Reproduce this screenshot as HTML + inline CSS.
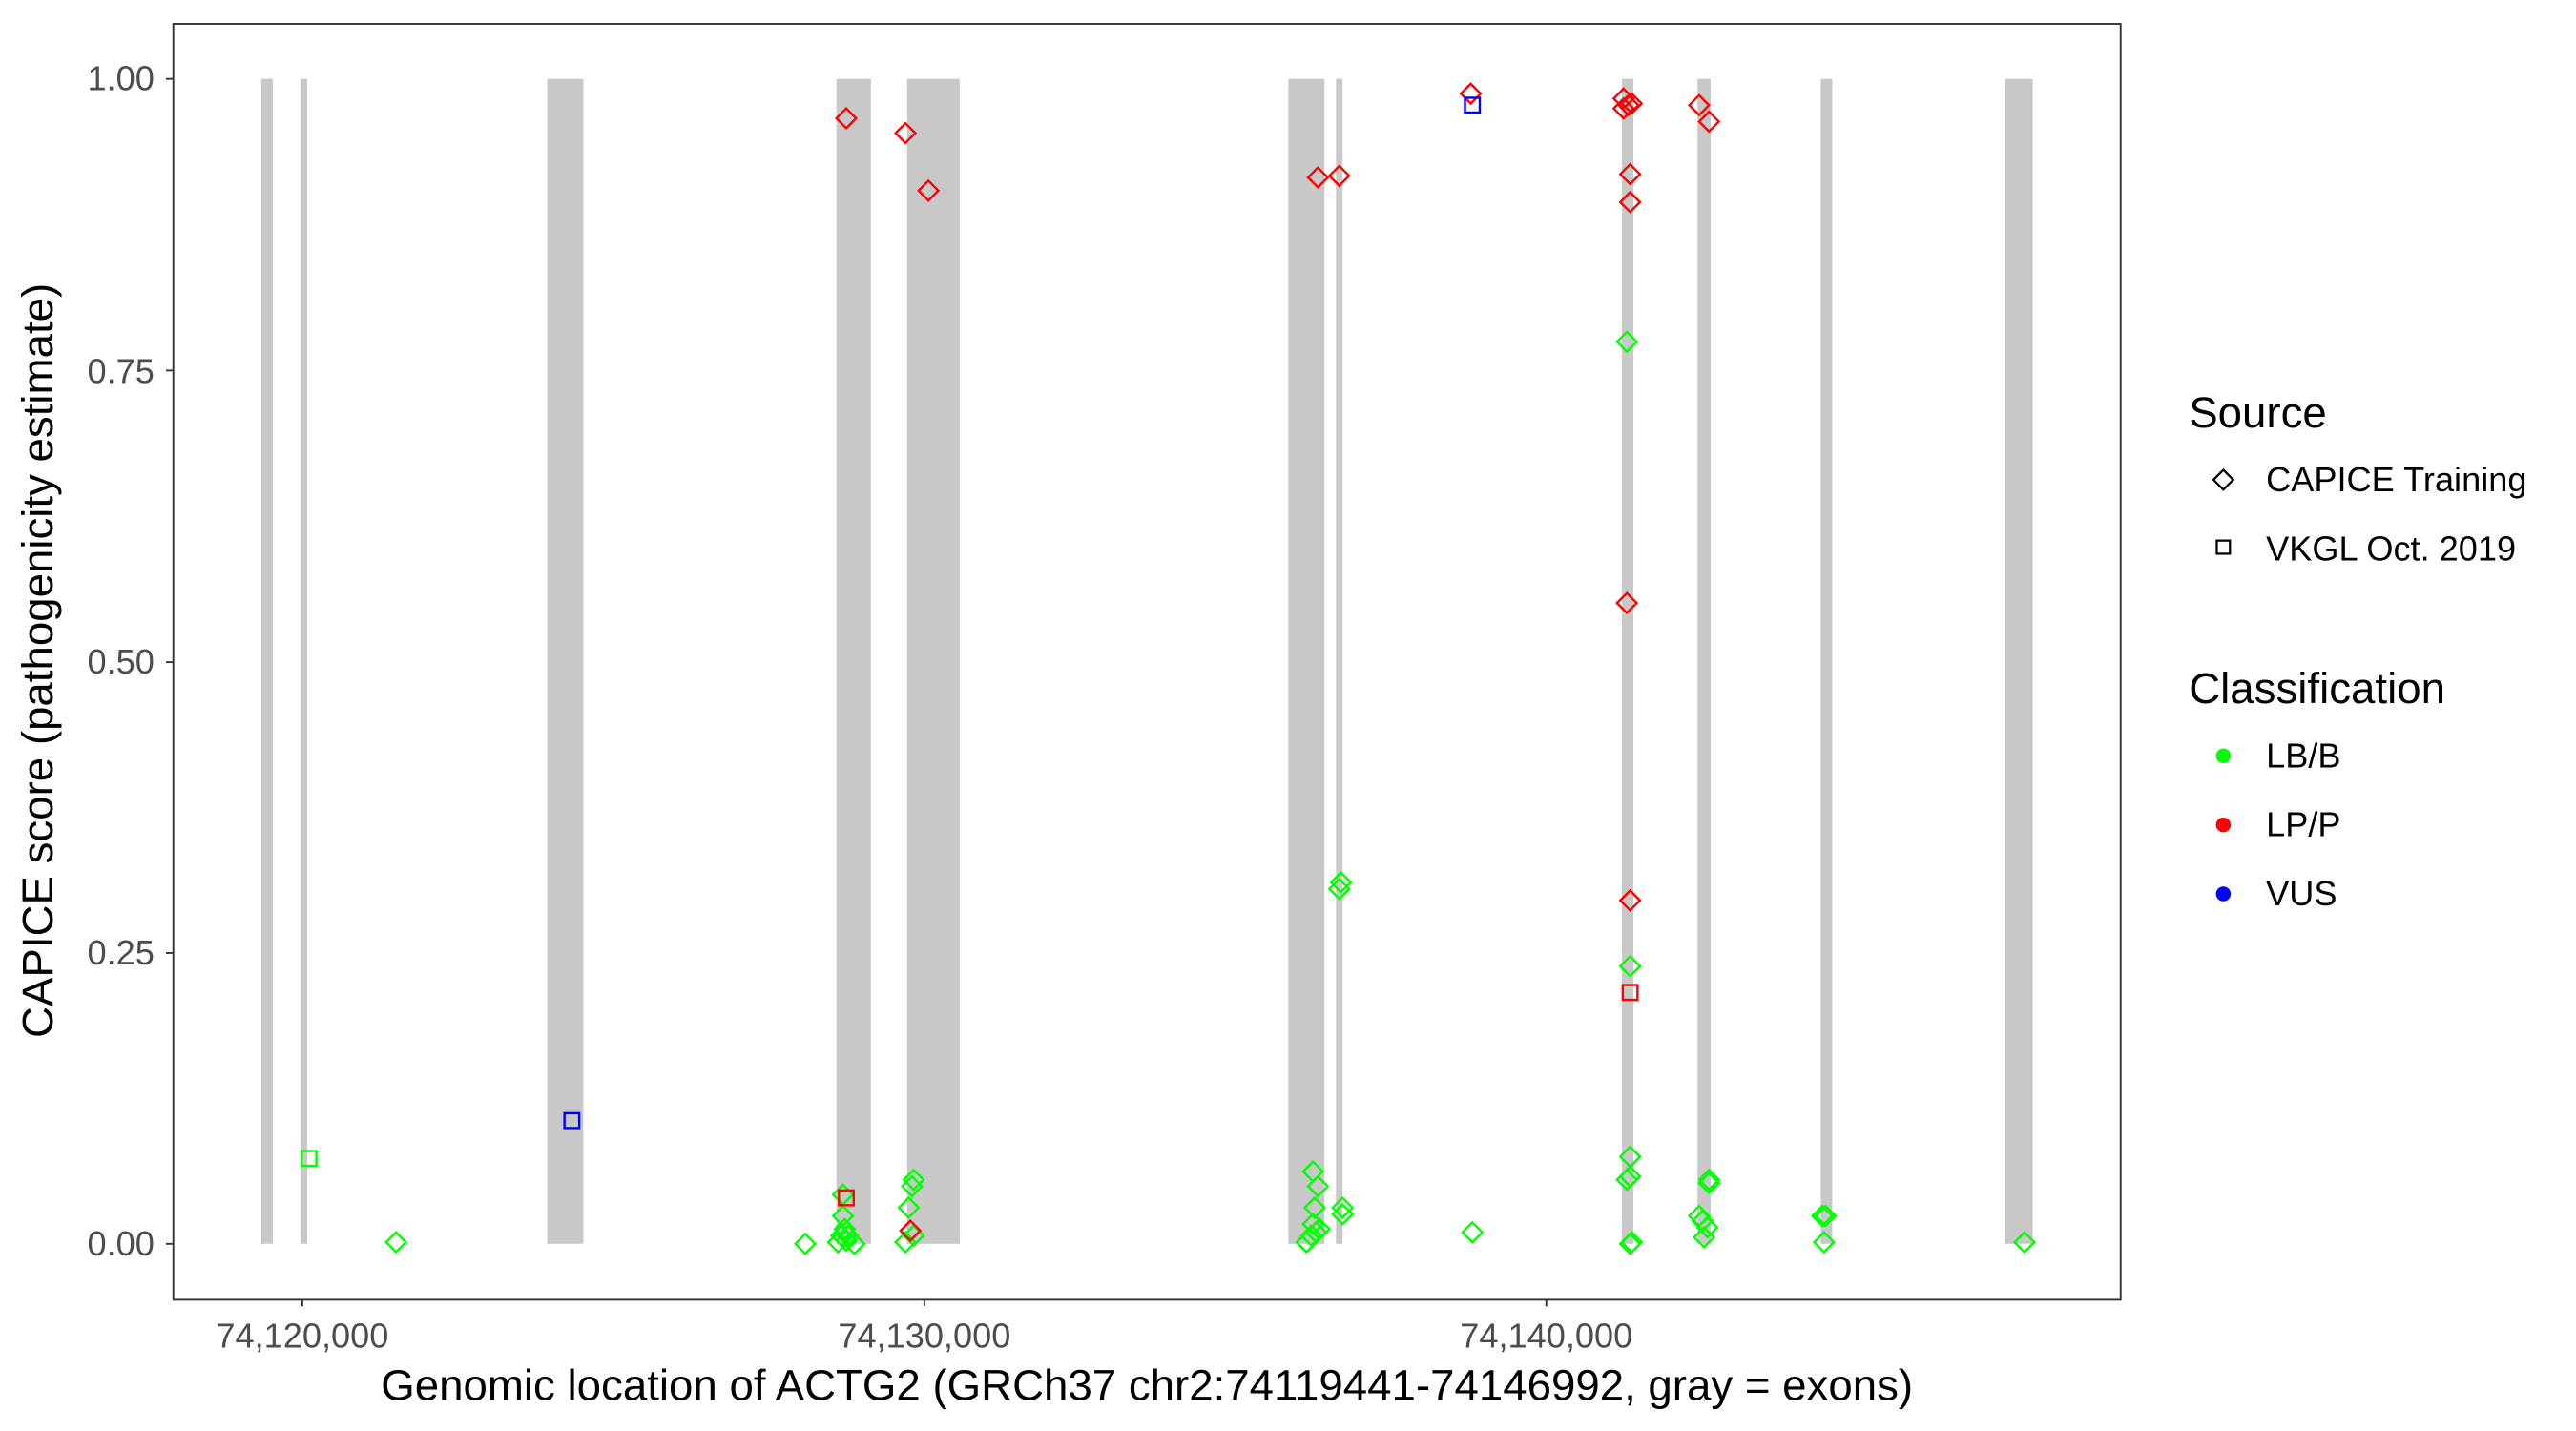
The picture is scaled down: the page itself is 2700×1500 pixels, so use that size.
<!DOCTYPE html>
<html><head><meta charset="utf-8"><style>html,body{margin:0;padding:0;background:#fff}svg{display:block}</style></head><body>
<svg width="2700" height="1500" viewBox="0 0 1567.6 870.9" preserveAspectRatio="none" xmlns="http://www.w3.org/2000/svg" font-family="Liberation Sans, Arial, sans-serif">
<defs>
<path id="d" d="M0,-6 L6,0 L0,6 L-6,0 Z" fill="none" stroke-width="1.4"/>
<rect id="s" x="-4.5" y="-4.5" width="9" height="9" fill="none" stroke-width="1.4"/>
</defs>
<rect x="0" y="0" width="1567.6" height="870.9" fill="#fff"/>
<g fill="#c8c8c8">
<rect x="159" y="48" width="7" height="709"/>
<rect x="183" y="48" width="4" height="709"/>
<rect x="333" y="48" width="22" height="709"/>
<rect x="509" y="48" width="21" height="709"/>
<rect x="552" y="48" width="32" height="709"/>
<rect x="784" y="48" width="22" height="709"/>
<rect x="813" y="48" width="4" height="709"/>
<rect x="987" y="48" width="7" height="709"/>
<rect x="1033" y="48" width="8" height="709"/>
<rect x="1108" y="48" width="7" height="709"/>
<rect x="1220" y="48" width="17" height="709"/>
</g>
<g stroke="#00ff00">
<use href="#d" x="241" y="756"/><use href="#d" x="490" y="757"/><use href="#d" x="513" y="727"/><use href="#d" x="513" y="740"/><use href="#d" x="514" y="748"/><use href="#d" x="512" y="752"/><use href="#d" x="515" y="755"/><use href="#d" x="520" y="757"/><use href="#d" x="510" y="756"/><use href="#d" x="516" y="752"/><use href="#d" x="556" y="718"/><use href="#d" x="555" y="722"/><use href="#d" x="553" y="735"/><use href="#d" x="551" y="756"/><use href="#d" x="556" y="752"/><use href="#d" x="799" y="713"/><use href="#d" x="802" y="722"/><use href="#d" x="800" y="735"/><use href="#d" x="799" y="745"/><use href="#d" x="801" y="750"/><use href="#d" x="795" y="756"/><use href="#d" x="798" y="752"/><use href="#d" x="803" y="748"/><use href="#d" x="816" y="537"/><use href="#d" x="815" y="541"/><use href="#d" x="817" y="735"/><use href="#d" x="817" y="739"/><use href="#d" x="896" y="750"/><use href="#d" x="990" y="208"/><use href="#d" x="992" y="588"/><use href="#d" x="992" y="704"/><use href="#d" x="990" y="718"/><use href="#d" x="992" y="716"/><use href="#d" x="993" y="756"/><use href="#d" x="992" y="757"/><use href="#d" x="1034" y="740"/><use href="#d" x="1037" y="753"/><use href="#d" x="1039" y="747"/><use href="#d" x="1036" y="743"/><use href="#d" x="1040" y="720"/><use href="#d" x="1040" y="718"/><use href="#d" x="1109" y="740"/><use href="#d" x="1110" y="756"/><use href="#d" x="1111" y="740"/><use href="#d" x="1232" y="756"/>
<use href="#s" x="188" y="705"/>
</g>
<g stroke="#ff0000">
<use href="#d" x="515" y="72"/><use href="#d" x="551" y="81"/><use href="#d" x="565" y="116"/><use href="#d" x="554" y="749"/><use href="#d" x="802" y="108"/><use href="#d" x="815" y="107"/><use href="#d" x="895" y="57"/><use href="#d" x="988" y="60"/><use href="#d" x="991" y="64"/><use href="#d" x="993" y="63"/><use href="#d" x="988" y="66"/><use href="#d" x="992" y="106"/><use href="#d" x="992" y="123"/><use href="#d" x="990" y="367"/><use href="#d" x="992" y="548"/><use href="#d" x="1034" y="64"/><use href="#d" x="1040" y="74"/>
<use href="#s" x="515" y="729"/><use href="#s" x="992" y="604"/>
</g>
<g stroke="#0000ff"><use href="#s" x="348" y="682"/><use href="#s" x="896" y="64"/></g>
<rect x="105.5" y="14.5" width="1185" height="776.5" fill="none" stroke="#333" stroke-width="1.1"/>
<g stroke="#333" stroke-width="1.1">
<line x1="101" y1="48" x2="105" y2="48"/><line x1="101" y1="225.5" x2="105" y2="225.5"/><line x1="101" y1="403" x2="105" y2="403"/><line x1="101" y1="580" x2="105" y2="580"/><line x1="101" y1="757" x2="105" y2="757"/>
<line x1="184" y1="791" x2="184" y2="795"/><line x1="562.5" y1="791" x2="562.5" y2="795"/><line x1="941" y1="791" x2="941" y2="795"/>
</g>
<g fill="#4d4d4d" font-size="21" text-anchor="end">
<text x="94" y="55">1.00</text><text x="94" y="233">0.75</text><text x="94" y="410">0.50</text><text x="94" y="587">0.25</text><text x="94" y="764">0.00</text>
</g>
<g fill="#4d4d4d" font-size="21" text-anchor="middle">
<text x="184" y="820">74,120,000</text><text x="562.5" y="820">74,130,000</text><text x="941" y="820">74,140,000</text>
</g>
<text x="698" y="852" text-anchor="middle" font-size="26.5">Genomic location of ACTG2 (GRCh37 chr2:74119441-74146992, gray = exons)</text>
<text transform="translate(32,402) rotate(-90)" text-anchor="middle" font-size="26.5">CAPICE score (pathogenicity estimate)</text>
<text x="1332" y="260" font-size="26.5">Source</text>
<path d="M1353,286 L1359,292 L1353,298 L1347,292 Z" fill="none" stroke="#000" stroke-width="1.3"/>
<text x="1379" y="299" font-size="21">CAPICE Training</text>
<rect x="1349" y="329" width="8" height="8" fill="none" stroke="#000" stroke-width="1.3"/>
<text x="1379" y="341" font-size="21">VKGL Oct. 2019</text>
<text x="1332" y="428" font-size="26.5">Classification</text>
<circle cx="1353" cy="460" r="4.5" fill="#00ff00"/><text x="1379" y="467" font-size="21">LB/B</text>
<circle cx="1353" cy="502" r="4.5" fill="#ff0000"/><text x="1379" y="509" font-size="21">LP/P</text>
<circle cx="1353" cy="544" r="4.5" fill="#0000ff"/><text x="1379" y="551" font-size="21">VUS</text>
</svg>
</body></html>
